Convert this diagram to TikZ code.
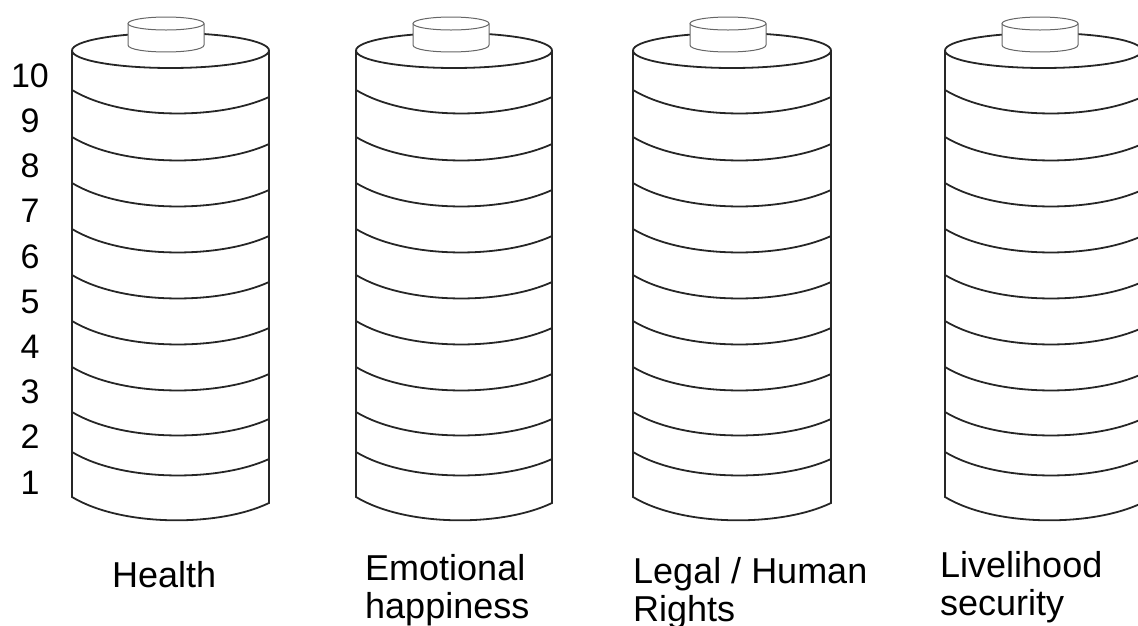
\documentclass[tikz,border=0pt]{standalone}
\usepackage{fontspec}
\setmainfont{Liberation Sans}
\begin{document}
\begin{tikzpicture}[x=1pt,y=-1pt,
  body/.style={draw=black!85, line width=1.8pt},
  capline/.style={draw=black!60, line width=1pt, fill=white},
  num/.style={font=\fontsize{34}{38}\selectfont, inner sep=0pt},
  lab/.style={font=\fontsize{36}{38.5}\selectfont, inner sep=0pt, anchor=north west, align=left}]
\useasboundingbox (0,0) rectangle (1138,625);
\foreach \L/\R/\c in {72/269/166, 356/552/451, 633/831/728, 945/1142/1040}{
  \pgfmathsetmacro\cx{(\L+\R)/2}
  \pgfmathsetmacro\rx{(\R-\L)/2}
  \draw[body] (\L,51) -- (\L,497) .. controls (\L+50,527) and (\R-50,527) .. (\R,503) -- (\R,50);
  \draw[body] (\cx,50.5) ellipse [x radius=\rx, y radius=17.5];
  \foreach \y in {90,137,183,229,275,321,367,412,452}
    \draw[body] (\L,\y) .. controls (\L+50,\y+30) and (\R-50,\y+30) .. (\R,\y+7);
  \path[capline] (\c-38,23.5) -- (\c-38,45) .. controls (\c-38,54.3) and (\c+38,54.3) .. (\c+38,45) -- (\c+38,23.5);
  \path[capline] (\c,23.5) ellipse [x radius=38, y radius=6.5];
}
\foreach \k in {0,...,9}{
  \pgfmathtruncatemacro\v{10-\k}
  \node[num] (n\v) at (30,75.5+45.2*\k) {\v};
}
\node[lab] (health) at (112,561) {Health};
\node[lab] (emo) at (365,554) {Emotional\\happiness};
\node[lab] (legal) at (633,557) {Legal / Human\\Rights};
\node[lab] (live) at (940,551) {Livelihood\\security};
\end{tikzpicture}
\end{document}
